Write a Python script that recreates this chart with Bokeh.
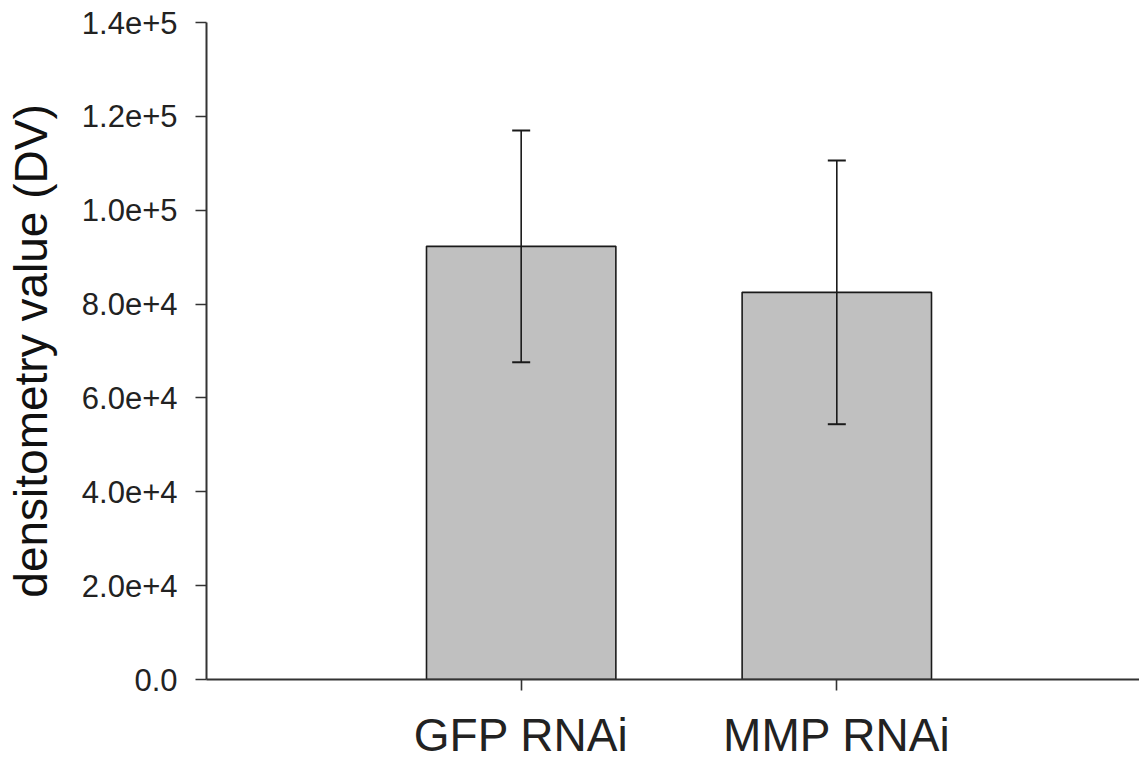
from bokeh.plotting import figure
from bokeh.models import ColumnDataSource, Range1d, FixedTicker, Whisker, TeeHead
from bokeh.embed import file_html
from bokeh.resources import INLINE

categories = ["GFP RNAi", "MMP RNAi"]
means = [92300, 82500]
errors = [24700, 28100]
y_ticks = [0, 20000, 40000, 60000, 80000, 100000, 120000, 140000]
y_tick_labels = ["0.0", "2.0e+4", "4.0e+4", "6.0e+4", "8.0e+4", "1.0e+5", "1.2e+5", "1.4e+5"]

xs = [i + 1 for i in range(len(categories))]
src = ColumnDataSource(dict(
    x=xs, top=means,
    upper=[m + e for m, e in zip(means, errors)],
    lower=[m - e for m, e in zip(means, errors)],
))

p = figure(width=1139, height=763, output_backend="svg", toolbar_location=None,
           x_range=Range1d(0.003, 2.959), y_range=Range1d(0, 140000),
           min_border_left=206, min_border_right=0, min_border_top=22, min_border_bottom=79)
p.outline_line_color = None
p.xgrid.visible = False
p.ygrid.visible = False
p.background_fill_color = "white"
p.border_fill_color = "white"

p.vbar(x="x", top="top", bottom=0, width=0.6, source=src,
       fill_color="#c0c0c0", line_color="#1a1a1a", line_width=1.6)

w = Whisker(base="x", upper="upper", lower="lower", source=src, level="overlay",
            line_color="#1a1a1a", line_width=1.6,
            upper_head=TeeHead(size=18, line_color="#1a1a1a", line_width=2),
            lower_head=TeeHead(size=18, line_color="#1a1a1a", line_width=2))
p.add_layout(w)

for ax in (p.xaxis[0], p.yaxis[0]):
    ax.axis_line_color = "#333333"
    ax.axis_line_width = 2
    ax.major_tick_line_color = "#333333"
    ax.major_tick_line_width = 1.6
    ax.major_tick_in = 0
    ax.major_tick_out = 11
    ax.minor_tick_line_color = None
    ax.major_label_text_font = "Liberation Sans"
    ax.major_label_text_color = "#222222"
    ax.axis_label_text_font = "Liberation Sans"
    ax.axis_label_text_font_style = "normal"
    ax.axis_label_text_color = "#111111"

p.yaxis.ticker = FixedTicker(ticks=y_ticks)
p.yaxis.major_label_overrides = {t: l for t, l in zip(y_ticks, y_tick_labels)}
p.yaxis.major_label_text_font_size = "31px"
p.yaxis.major_label_standoff = 18
p.yaxis.axis_label = "densitometry value (DV)"
p.yaxis.axis_label_text_font_size = "46px"
p.yaxis.axis_label_standoff = 22

p.xaxis.ticker = FixedTicker(ticks=xs)
p.xaxis.major_label_overrides = {x: c for x, c in zip(xs, categories)}
p.xaxis.major_label_text_font_size = "46px"
p.xaxis.major_label_standoff = 18

open("out.html", "w").write(file_html(p, INLINE))
